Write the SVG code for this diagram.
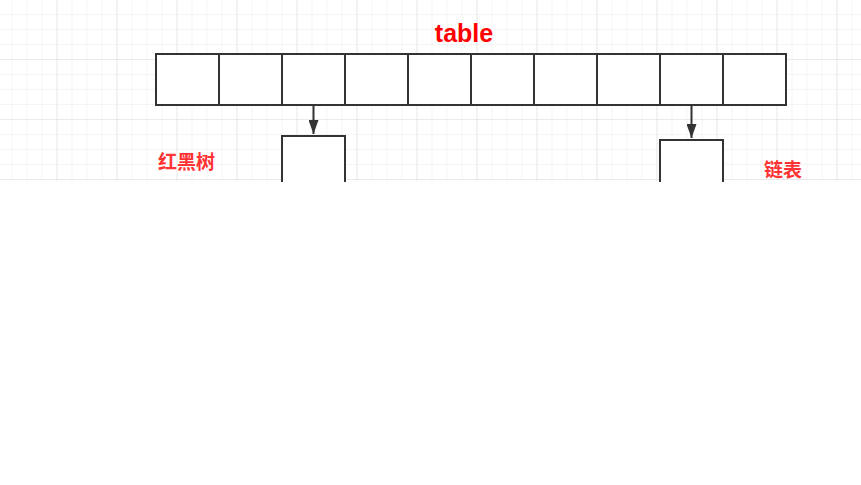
<svg xmlns="http://www.w3.org/2000/svg" width="861" height="485" viewBox="0 0 861 485">
<defs>
<pattern id="minor" x="11.5" y="14" width="15" height="15" patternUnits="userSpaceOnUse">
<path d="M0 0H15M0 0V15" fill="none" stroke="#ececec" stroke-width="1"/>
</pattern>
<pattern id="major" x="56.5" y="59" width="60" height="60" patternUnits="userSpaceOnUse">
<path d="M0 0H60M0 0V60" fill="none" stroke="#e0e0e0" stroke-width="1"/>
</pattern>
<marker id="arr" viewBox="0 0 14 10" refX="14" refY="5" markerWidth="14" markerHeight="10" markerUnits="userSpaceOnUse" orient="auto">
<path d="M0 0L14 5L0 10Z" fill="#333"/>
</marker>
</defs>
<style>
.cell{fill:#fff;stroke:#333;stroke-width:2}
.box{fill:#fff;stroke:#333;stroke-width:2}
.edge{stroke:#333;stroke-width:2;fill:none}
.lbl{font-family:"Liberation Sans","Noto Sans CJK SC",sans-serif;font-weight:bold;fill:#ff3333;font-size:19px}
</style>
<rect width="861" height="485" fill="#fff"/>
<g id="grid">
<rect x="0" y="0" width="861" height="181" fill="url(#minor)"/>
<rect x="0" y="0" width="861" height="181" fill="url(#major)"/>
</g>
<text id="title" x="464" y="42" text-anchor="middle" font-family="Liberation Sans, sans-serif" font-weight="bold" font-size="25" fill="#ff0000">table</text>
<g id="table">
<rect class="cell" x="156" y="54" width="63" height="51"/>
<rect class="cell" x="219" y="54" width="63" height="51"/>
<rect class="cell" x="282" y="54" width="63" height="51"/>
<rect class="cell" x="345" y="54" width="63" height="51"/>
<rect class="cell" x="408" y="54" width="63" height="51"/>
<rect class="cell" x="471" y="54" width="63" height="51"/>
<rect class="cell" x="534" y="54" width="63" height="51"/>
<rect class="cell" x="597" y="54" width="63" height="51"/>
<rect class="cell" x="660" y="54" width="63" height="51"/>
<rect class="cell" x="723" y="54" width="63" height="51"/>
</g>
<g id="tree-node">
<path class="box" d="M282 182V136H345V182"/>
</g>
<g id="list-node">
<path class="box" d="M660 182V140H723V182"/>
</g>
<g id="connectors">
<path class="edge" d="M313.5 106V134" marker-end="url(#arr)"/>
<path class="edge" d="M691.5 106V138" marker-end="url(#arr)"/>
</g>
<text id="label-tree" class="lbl" x="158" y="169">红黑树</text>
<text id="label-list" class="lbl" x="764" y="177">链表</text>
<rect x="0" y="182" width="861" height="303" fill="#fff"/>
</svg>
